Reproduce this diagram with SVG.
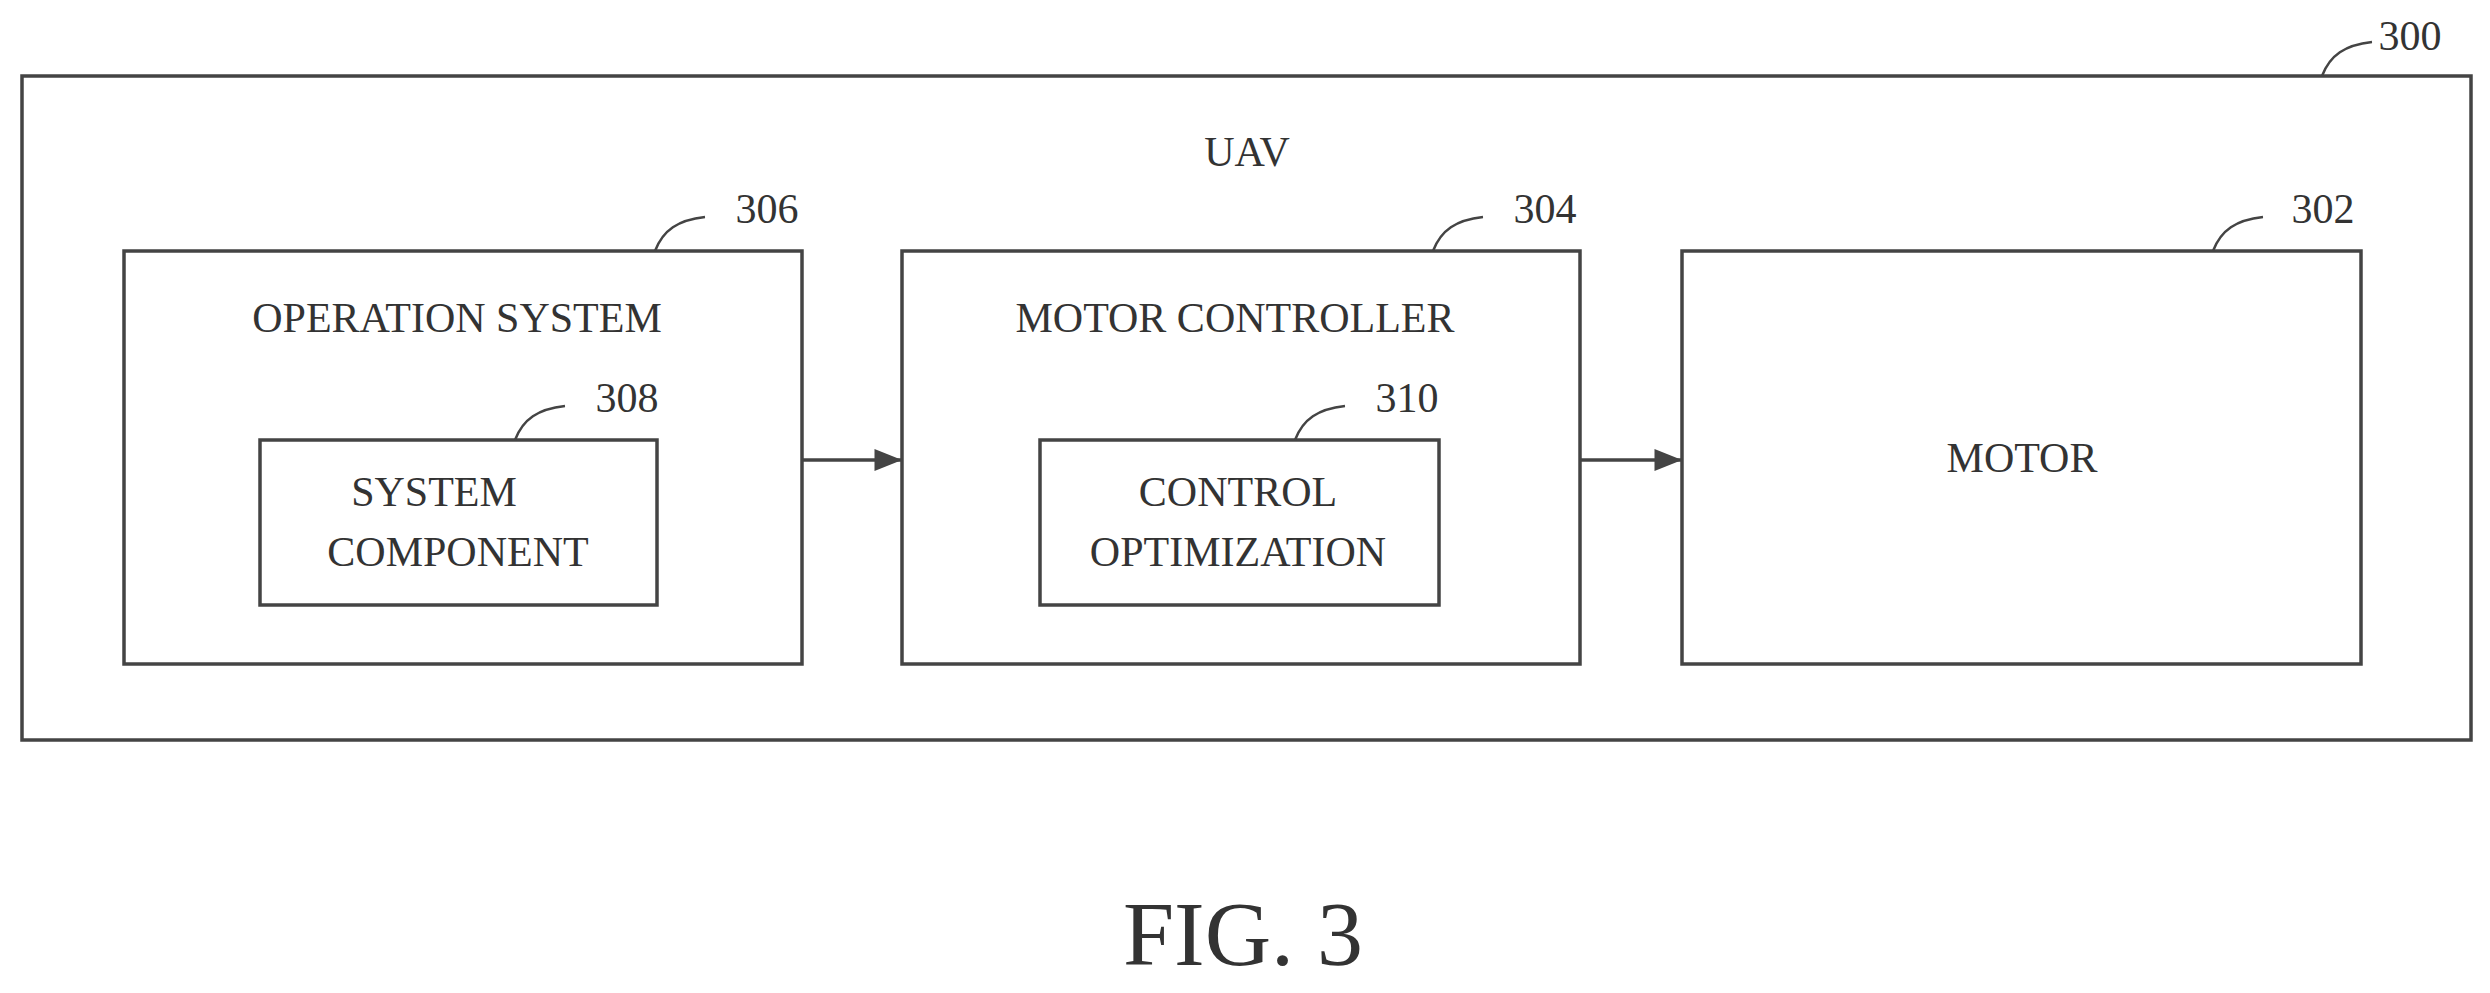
<svg xmlns="http://www.w3.org/2000/svg" width="2490" height="993" viewBox="0 0 2490 993">
<style>
.b{fill:none;stroke:#444;stroke-width:3.5}
.t{font-family:"Liberation Serif",serif;font-size:42px;fill:#333;text-anchor:middle}
.l{fill:none;stroke:#444;stroke-width:2.5}
</style>
<defs><marker id="a" markerWidth="10" markerHeight="8" refX="10" refY="4" orient="auto" markerUnits="userSpaceOnUse" viewBox="0 0 10 8"><path d="M0,0L10,4L0,8z" fill="#444"/></marker>
<marker id="ah" viewBox="0 0 10 8" refX="10" refY="4" markerWidth="30" markerHeight="22" orient="auto" markerUnits="userSpaceOnUse"><path d="M0,0L10,4L0,8z" fill="#444"/></marker></defs>
<rect width="2490" height="993" fill="#fff"/>
<g id="n300"><rect class="b" x="22" y="76" width="2449" height="664"/><text class="t" x="1247" y="166">UAV</text><path class="l" d="M2322,76 C2330,55 2345,45 2372,42"/><text class="t" x="2410" y="50">300</text></g>
<g id="n306"><rect class="b" x="124" y="251" width="678" height="413"/><text class="t" x="457" y="332">OPERATION SYSTEM</text><path class="l" d="M655,251 C663,230 678,220 705,217"/><text class="t" x="767" y="223">306</text></g>
<g id="n308"><rect class="b" x="260" y="440" width="397" height="165"/><text class="t" x="434" y="506">SYSTEM</text><text class="t" x="458" y="566">COMPONENT</text><path class="l" d="M515,440 C523,419 538,409 565,406"/><text class="t" x="627" y="412">308</text></g>
<g id="n304"><rect class="b" x="902" y="251" width="678" height="413"/><text class="t" x="1235" y="332">MOTOR CONTROLLER</text><path class="l" d="M1433,251 C1441,230 1456,220 1483,217"/><text class="t" x="1545" y="223">304</text></g>
<g id="n310"><rect class="b" x="1040" y="440" width="399" height="165"/><text class="t" x="1238" y="506">CONTROL</text><text class="t" x="1238" y="566">OPTIMIZATION</text><path class="l" d="M1295,440 C1303,419 1318,409 1345,406"/><text class="t" x="1407" y="412">310</text></g>
<g id="n302"><rect class="b" x="1682" y="251" width="679" height="413"/><text class="t" x="2022" y="472">MOTOR</text><path class="l" d="M2213,251 C2221,230 2236,220 2263,217"/><text class="t" x="2323" y="223">302</text></g>
<g id="connectors"><line class="b" x1="802" y1="460" x2="902" y2="460" marker-end="url(#ah)"/><line class="b" x1="1580" y1="460" x2="1682" y2="460" marker-end="url(#ah)"/></g>
<text x="1243" y="965" font-family="Liberation Serif,serif" font-size="92" fill="#333" text-anchor="middle">FIG. 3</text>
</svg>
